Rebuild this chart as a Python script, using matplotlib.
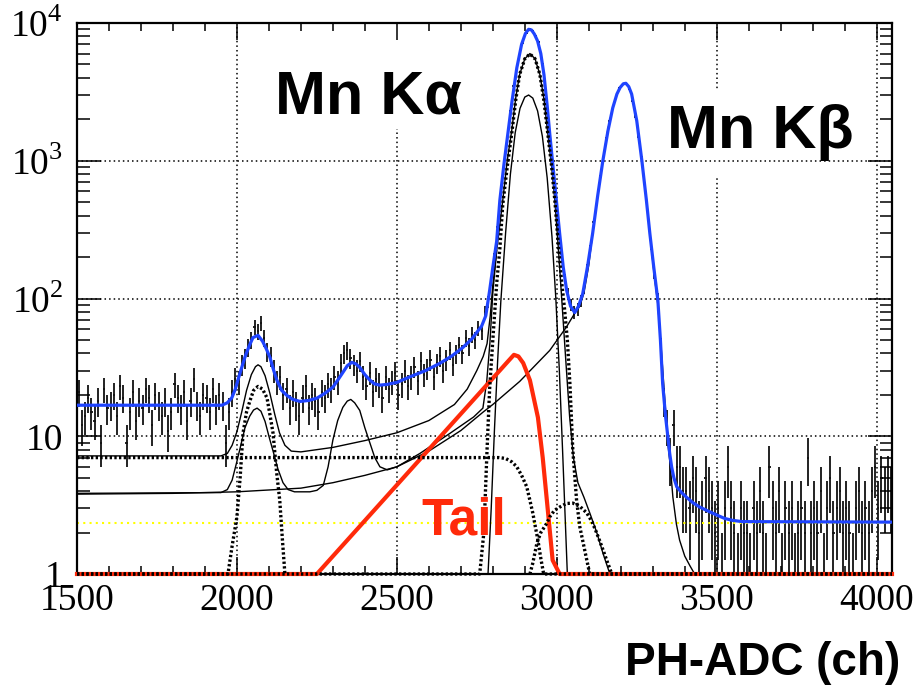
import numpy as np
import matplotlib
matplotlib.use('Agg')
import matplotlib.pyplot as plt
from matplotlib.patches import Rectangle
from matplotlib.ticker import MultipleLocator, LogLocator, FuncFormatter, NullFormatter

plt.rcParams['mathtext.fontset'] = 'custom'
plt.rcParams['mathtext.rm'] = 'Liberation Serif'

# histogram: 10 ch bins from 1500 to 4050
bin_centers = np.arange(1505, 4050, 10)
counts = [
    21, 12, 14, 19, 15, 13, 18, 9, 22, 16,
    17, 20, 14, 23, 19, 9, 15, 21, 13, 18,
    16, 22, 19, 12, 20, 17, 14, 18, 11, 15,
    24, 19, 16, 21, 13, 18, 26, 17, 14, 20,
    19, 15, 22, 16, 20, 17, 9, 15, 21, 26,
    25, 33, 37, 44, 50, 62, 58, 66, 52, 41,
    38, 30, 25, 27, 20, 22, 16, 21, 17, 14,
    19, 23, 16, 20, 18, 15, 21, 19, 24, 22,
    27, 25, 34, 40, 42, 37, 33, 30, 35, 27,
    23, 29, 21, 26, 24, 19, 27, 22, 25, 29,
    20, 24, 30, 23, 27, 32, 25, 35, 28, 31,
    36, 27, 34, 38, 30, 36, 42, 33, 40, 46,
    40, 52, 45, 55, 50, 61, 58, 80, 95, 135,
    200, 330, 580, 950, 1450, 2300, 3500, 4700, 6000, 7200,
    8500, 9000, 8800, 8000, 7300, 5000, 3000, 1800, 1000, 560,
    340, 210, 140, 108, 90, 80, 84, 96, 118, 165,
    230, 360, 520, 760, 1050, 1450, 1950, 2450, 2950, 3350,
    3550, 3600, 3300, 2700, 2100, 1500, 1050, 650, 420, 240,
    150, 100, 45, 18, 12, 7, 12, 6, 6, 4,
    4, 3, 5, 4, 2, 3, 5, 4, 3, 2,
    3, 1, 3, 6, 3, 2, 1, 3, 2, 2,
    1, 3, 2, 4, 2, 1, 6, 3, 2, 4,
    1, 3, 2, 3, 1, 2, 3, 2, 7, 2,
    3, 2, 4, 1, 3, 5, 2, 3, 4, 2,
    3, 2, 1, 3, 4, 2, 3, 2, 4, 6,
    3, 5, 4, 5, 4,
]

# total fit (blue)
total_x = [1500, 1953, 1970, 1984, 1995, 2003, 2014, 2025, 2038, 2050, 2066, 2080, 2092, 2103,
           2115, 2125, 2140, 2156, 2175, 2197, 2225, 2250, 2275, 2300, 2315, 2331, 2345, 2359,
           2372, 2384, 2400, 2416, 2430, 2447, 2470, 2500, 2541, 2590, 2634, 2670, 2706, 2735,
           2753, 2765, 2778, 2790, 2800, 2812, 2822, 2835, 2847, 2860, 2875, 2890, 2902, 2912,
           2921, 2930, 2940, 2950, 2960, 2970, 2978, 2993, 3009, 3020, 3031, 3043, 3056, 3068,
           3081, 3096, 3112, 3128, 3144, 3160, 3175, 3188, 3198, 3208, 3216, 3225, 3234, 3250,
           3266, 3280, 3291, 3303, 3316, 3324, 3331, 3340, 3347, 3353, 3359, 3366, 3375, 3390,
           3406, 3425, 3447, 3475, 3500, 3525, 3550, 3580, 4048]
total_y = [16.8, 16.8, 17.5, 19, 22, 25.5, 31, 37.5, 45, 52, 54, 49, 43, 37.5,
           30, 25.5, 21.5, 19.8, 18.5, 17.9, 18.2, 18.9, 20.5, 22.7, 25.5, 29, 32.5, 34.4,
           33.5, 31.6, 28, 25.5, 24, 23.5, 23.8, 24.6, 27, 30, 33.8, 38, 44, 51,
           58, 63, 75, 114, 168, 260, 517, 950, 1570, 2700, 4720, 7000, 8400, 9000,
           8900, 8300, 7400, 6000, 4200, 2500, 1570, 700, 296, 170, 114, 88, 79, 88,
           108, 170, 296, 560, 1000, 1650, 2420, 3050, 3400, 3620, 3650, 3450, 3050, 1950,
           1000, 520, 296, 170, 97, 50, 24, 14, 10, 7.5, 6, 5, 4.3, 3.9,
           3.6, 3.3, 3.06, 2.85, 2.68, 2.53, 2.45, 2.4, 2.38]

# shelf + escape(Ka) + Ka peak (thin solid)
s1_x = [1500, 1950, 1970, 1985, 2000, 2015, 2030, 2045, 2058, 2066, 2075, 2088, 2103, 2118,
        2133, 2150, 2170, 2200, 2300, 2400, 2500, 2600, 2680, 2720, 2750, 2770, 2782, 2792,
        2800, 2812, 2831, 2845, 2859, 2872, 2884, 2900, 2916, 2932, 2947, 2960, 2972, 2984,
        2994, 3005, 3016, 3028, 3040, 3052, 3066, 3085, 3105, 3125, 3145, 3166]
s1_y = [7.2, 7.2, 7.5, 8.6, 10.8, 15, 21.5, 28, 32, 33, 32, 27.5, 20.5, 14.5,
        10.6, 8.6, 7.8, 7.7, 8.3, 9.3, 10.6, 13, 17, 22, 30, 38, 47, 75,
        125, 222, 513, 1000, 1650, 2900, 4240, 5500, 6000, 5500, 4240, 2800, 1570, 900,
        513, 230, 95, 36, 14, 7, 4.6, 3.6, 2.7, 2.0, 1.4, 1.0]

# exponential background + escape peaks, branching into Ka
s2_x = [1500, 1950, 1970, 1985, 1998, 2010, 2025, 2040, 2052, 2063, 2075, 2088, 2100, 2113,
        2128, 2144, 2160, 2180, 2228, 2250, 2270, 2285, 2300, 2315, 2331, 2345, 2356, 2368,
        2384, 2400, 2416, 2431, 2447, 2470, 2500, 2572, 2666, 2740, 2769, 2781, 2791, 2800, 2812]
s2_y = [3.85, 3.9, 4.1, 4.8, 6.3, 8.2, 11.5, 14, 15.5, 16, 15.2, 12.8, 10, 7.8,
        5.8, 4.6, 4.1, 3.95, 3.95, 4.05, 4.4, 6, 9.4, 13, 16.2, 18, 18.5, 17.5,
        15.4, 11.5, 8.9, 7, 6.0, 5.7, 6.0, 7.5, 10.5, 13.8, 16, 25, 48, 110, 222]

# exponential background + Kb peak
kb_x = [1500, 1800, 2000, 2200, 2300, 2400, 2500, 2600, 2700, 2770, 2800, 2884, 2978, 3030,
        3056, 3072, 3085, 3100, 3112, 3128, 3144, 3160, 3175, 3188, 3198, 3208, 3216, 3225,
        3234, 3250, 3266, 3280, 3291, 3303, 3316, 3327, 3338, 3347, 3355, 3363, 3374, 3384,
        3400, 3416, 3431]
kb_y = [3.8, 3.85, 3.95, 4.2, 4.6, 5.2, 6.0, 7.8, 11, 15, 17, 25, 42, 62,
        78, 88, 110, 175, 296, 560, 1000, 1700, 2420, 3050, 3400, 3620, 3650, 3450,
        3050, 1950, 1000, 530, 296, 160, 90, 42, 18, 9, 6, 3.6, 2.3, 1.76,
        1.35, 1.15, 1.0]

# second Ka line (thin solid)
ka2_x = [2785, 2795, 2805, 2815, 2825, 2840, 2855, 2870, 2885, 2900, 2912, 2925, 2940, 2955,
         2970, 2985, 2997, 3008, 3018, 3028, 3033]
ka2_y = [1, 3, 11, 35, 95, 300, 800, 1600, 2400, 2900, 3000, 2850, 2300, 1500,
         750, 280, 100, 30, 8, 2, 1]

# dotted components
ka_dot_x = [1500, 2759, 2772, 2782, 2790, 2800, 2812, 2822, 2831, 2845, 2859, 2872, 2884, 2900,
            2916, 2932, 2947, 2960, 2972, 2984, 2994, 3004, 3014, 3024, 3033, 3041, 3050, 3062,
            3072, 3087, 3103, 4048]
ka_dot_y = [1, 1, 2, 8, 22, 50, 128, 230, 480, 900, 1570, 2800, 4240, 5500,
            5960, 5500, 4240, 2700, 1570, 900, 513, 260, 140, 85, 50, 24, 8, 3.4,
            2.2, 1.5, 1, 1]
esc_dot_x = [1500, 1972, 1985, 2000, 2010, 2019, 2030, 2041, 2052, 2066, 2080, 2094, 2104, 2113,
             2124, 2134, 2142, 2150]
esc_dot_y = [1, 1, 1.6, 2.6, 5, 10.5, 15, 18.2, 21.5, 23, 22, 19, 14, 10.5,
             5.5, 3.4, 1.8, 1]
shelf_dot_x = [1500, 2820, 2840, 2860, 2875, 2890, 2906, 2915, 2925, 2933, 2941, 2950, 2959, 4048]
shelf_dot_y = [7.0, 7.0, 6.9, 6.5, 6.0, 5.2, 4.3, 3.5, 2.77, 2.2, 1.76, 1.3, 1, 1]
bump_dot_x = [2916, 2925, 2938, 2950, 2969, 2978, 2993, 3009, 3030, 3050, 3072, 3094, 3110, 3125,
              3140, 3156, 3172]
bump_dot_y = [1, 1.2, 1.68, 2.0, 2.34, 2.6, 2.9, 3.06, 3.25, 3.27, 3.1, 2.77, 2.4, 1.98,
              1.6, 1.26, 1]

# tail (red)
tail_x = [1500, 2250, 2850, 2866, 2880, 2895, 2916, 2941, 2956, 2972, 2987, 3009, 4048]
tail_y = [1, 1, 35.5, 39, 38, 34, 25.5, 13.7, 7.0, 2.9, 1.26, 1.0, 1.0]

# constant background (yellow)
const_x = [1500, 4048]
const_y = [2.35, 2.35]

fig = plt.figure(figsize=(9.18, 6.87), dpi=100)
ax = fig.add_axes([77/918, 1-574/687, 815/918, 551/687])
ax.set_yscale('log')
ax.set_xlim(1500, 4048)
ax.set_ylim(1, 1e4)

# grid: vertical lines, white patches behind the labels, then horizontal lines
dot = (0, (1, 2))
for xv in [2000, 2500, 3000, 3500, 4000]:
    ax.axvline(xv, color='black', lw=1.1, ls=dot, zorder=0.5)
ax.add_patch(Rectangle((2150, 1706), 500, 1e4 - 1706, facecolor='white', edgecolor='none', zorder=0.7))
ax.add_patch(Rectangle((3340, 780), 600, 3215 - 780, facecolor='white', edgecolor='none', zorder=0.7))
for yv in [10, 100, 1000]:
    ax.axhline(yv, color='black', lw=1.1, ls=dot, zorder=0.9)

counts = np.array(counts, dtype=float)
ax.errorbar(bin_centers, counts, yerr=np.sqrt(counts), xerr=3.5, fmt='none',
            ecolor='#111111', elinewidth=1.3, capsize=0, zorder=1.5)

ax.plot(const_x, const_y, color='#ffff00', lw=1.5, ls=(0, (1, 2)), zorder=1.8)
ax.plot(s1_x, s1_y, color='black', lw=1.0, zorder=2)
ax.plot(s2_x, s2_y, color='black', lw=1.0, zorder=2)
ax.plot(kb_x, kb_y, color='black', lw=1.0, zorder=2)
ax.plot(ka2_x, ka2_y, color='black', lw=1.0, zorder=2)
ax.plot(total_x, total_y, color='#1f44ff', lw=2.3, zorder=2.6)
ax.plot(tail_x, tail_y, color='#ff2a0a', lw=3.0, zorder=3, clip_on=False)
for dx, dy in [(ka_dot_x, ka_dot_y), (esc_dot_x, esc_dot_y),
               (shelf_dot_x, shelf_dot_y), (bump_dot_x, bump_dot_y)]:
    ax.plot(dx, dy, color='black', lw=2.4, ls=(0, (0.7, 0.7)), zorder=3.5, clip_on=False)

# axes in ROOT style
for sp in ax.spines.values():
    sp.set_linewidth(1.6)
ax.xaxis.set_major_locator(MultipleLocator(500))
ax.xaxis.set_minor_locator(MultipleLocator(100))
ax.yaxis.set_major_locator(LogLocator(base=10, numticks=10))
ax.yaxis.set_minor_locator(LogLocator(base=10, subs=np.arange(2, 10), numticks=20))
ax.yaxis.set_minor_formatter(NullFormatter())

def ylab(v, pos):
    if v < 1.5:
        return '1'
    if v < 15:
        return '10'
    return '$10^{%d}$' % int(round(np.log10(v)))

ax.yaxis.set_major_formatter(FuncFormatter(ylab))
ax.tick_params(which='both', direction='in', top=True, right=True, width=1.1)
ax.tick_params(axis='x', which='major', length=12, pad=7)
ax.tick_params(axis='x', which='minor', length=6)
ax.tick_params(axis='y', which='major', length=17, pad=10)
ax.tick_params(axis='y', which='minor', length=9)
for lab in ax.get_xticklabels() + ax.get_yticklabels():
    lab.set_fontfamily('Liberation Serif')
    lab.set_fontsize(27)

ax.text(2119, 2190, 'Mn K\u03b1', fontsize=44, fontweight='bold', family='Liberation Sans',
        ha='left', va='baseline', zorder=5)
ax.text(3344, 1242, 'Mn K\u03b2', fontsize=44, fontweight='bold', family='Liberation Sans',
        ha='left', va='baseline', zorder=5)
ax.text(2578, 1.92, 'Tail', fontsize=37, fontweight='bold', family='Liberation Sans',
        color='#ff2a0a', ha='left', va='baseline', zorder=5)
fig.text(900/918, 1-675/687, 'PH-ADC (ch)', fontsize=33, fontweight='bold',
         family='Liberation Sans', ha='right', va='baseline')

fig.savefig('out.png', dpi=100)
